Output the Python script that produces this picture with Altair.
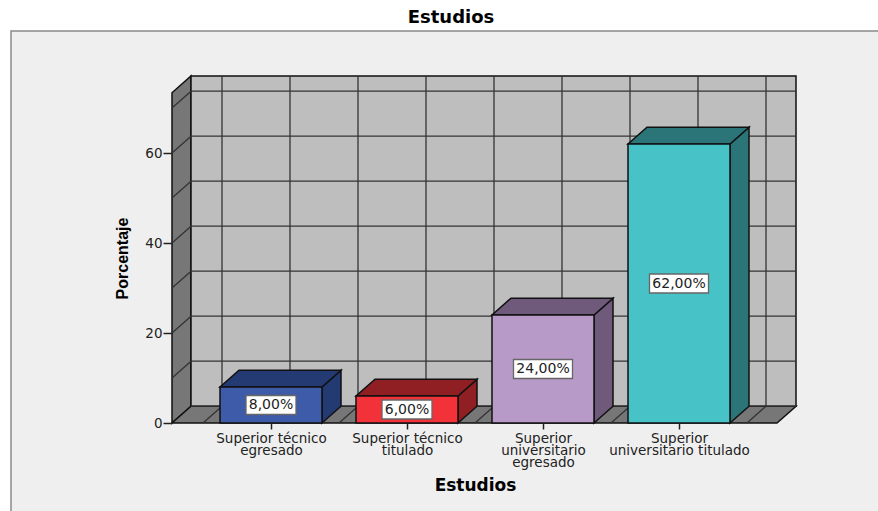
import altair as alt
import pandas as pd

# Values of the chart
categories = [
    "Superior técnico|egresado",
    "Superior técnico|titulado",
    "Superior|universitario|egresado",
    "Superior|universitario titulado",
]
percentages = [8.0, 6.0, 24.0, 62.0]
front_colors = ["#3E5BA9", "#F23139", "#B89AC9", "#47C3C8"]
shade_colors = ["#233A72", "#8F1F22", "#6F5A7B", "#2B7578"]
y_ticks = [0, 20, 40, 60]
grid_values = [0, 10, 20, 30, 40, 50, 60, 70]
grid_positions = [-0.5, 0, 0.5, 1, 1.5, 2, 2.5, 3, 3.5]

# Scale factors of the drawing
PX_PER_CAT = 136.0
PX_PER_PCT = 4.5
LEFT, TOP = 172, 76
WIDTH, HEIGHT = 624, 347
X_MIN = -99 / PX_PER_CAT
X_MAX = X_MIN + WIDTH / PX_PER_CAT
Y_MAX = HEIGHT / PX_PER_PCT
DX = 19 / PX_PER_CAT          # depth of the 3D box, category units
DY = 16.8 / PX_PER_PCT        # depth of the 3D box, percent units
HALF = 51 / PX_PER_CAT        # half a bar

xs = alt.Scale(domain=[X_MIN, X_MAX], nice=False, zero=False)
ys = alt.Scale(domain=[0, Y_MAX], nice=False, zero=False)
enc_x = alt.X("x:Q", scale=xs)
enc_y = alt.Y("y:Q", scale=ys)
enc_x2 = alt.X2("x2:Q")
enc_y2 = alt.Y2("y2:Q")
fill_id = alt.Color("fill:N", scale=None, legend=None)


def face(name, fill, rows):
    return [dict(shape=name, fill=fill, x=x, y=lo, y2=hi) for x, lo, hi in rows]


# Walls and floor of the 3D box
WALL_TOP = Y_MAX
walls = []
walls += face("left", "#777777", [(X_MIN, 0, WALL_TOP - DY), (X_MIN + DX, DY, WALL_TOP)])
walls += face("floor", "#777777", [
    (X_MIN, 0, 0), (X_MIN + DX, 0, DY), (X_MAX - DX, 0, DY), (X_MAX, DY, DY)])
walls += face("back", "#BEBEBE", [(X_MIN + DX, DY, WALL_TOP), (X_MAX, DY, WALL_TOP)])

# Grid lines on the walls and the floor
grid = []
for v in grid_values:
    grid += [dict(line=f"h{v}", x=X_MIN + DX, y=v + DY), dict(line=f"h{v}", x=X_MAX, y=v + DY)]
    if v:
        grid += [dict(line=f"s{v}", x=X_MIN, y=v), dict(line=f"s{v}", x=X_MIN + DX, y=v + DY)]
for m in grid_positions:
    grid += [dict(line=f"v{m}", x=m + DX, y=DY), dict(line=f"v{m}", x=m + DX, y=WALL_TOP)]
    grid += [dict(line=f"f{m}", x=m, y=0), dict(line=f"f{m}", x=m + DX, y=DY)]

# Faces of each bar
fronts, shades, boxes = [], [], []
for i, (value, front, shade) in enumerate(zip(percentages, front_colors, shade_colors)):
    a, b = i - HALF, i + HALF
    fronts.append(dict(x=a, x2=b, y=0, y2=value, fill=front))
    shades += face(f"side{i}", shade, [(b, 0, value), (b + DX, DY, value + DY)])
    shades += face(f"top{i}", shade, [
        (a, value, value), (a + DX, value, value + DY), (b, value, value + DY),
        (b + DX, value + DY, value + DY)])
    text = f"{value:.2f}".replace(".", ",") + "%"
    half_box = (len(text) * 9 + 5) / 2 / PX_PER_CAT
    half_h = 9.5 / PX_PER_PCT
    boxes.append(dict(x=i - half_box, x2=i + half_box, y=value / 2 - half_h,
                      y2=value / 2 + half_h, tx=i, ty=value / 2, text=text))

# Light grey panel behind the whole chart, running past the right and bottom edges
panel = pd.DataFrame([dict(x=X_MIN + (11 - LEFT) / PX_PER_CAT, x2=6, y=-30,
                           y2=(423 - 31) / PX_PER_PCT)])

label_list = "[" + ",".join(f"'{c}'" for c in categories) + "]"

# The axes sit on an invisible first layer and draw above the fills through zindex
axis_layer = alt.Chart(pd.DataFrame({"x": [0, 1, 2, 3], "y": [0, 0, 0, 0]})).mark_point(opacity=0).encode(
    x=alt.X("x:Q", scale=xs, axis=alt.Axis(
        values=[0, 1, 2, 3], title="Estudios", domain=False, grid=False, zindex=1,
        tickSize=6, tickColor="#222222", tickWidth=1.5,
        labelExpr=f"split({label_list}[datum.value], '|')",
        labelFont="DejaVu Sans", labelFontSize=13.5, labelColor="#222222",
        labelLineHeight=12, labelPadding=2, labelOverlap=False, labelBound=False,
        labelFlush=False, titleFont="DejaVu Sans", titleFontSize=17, titleFontWeight="bold",
        titleColor="#000000", titleX=303, titleY=54, titleAlign="center", titleAnchor="start",
    )),
    y=alt.Y("y:Q", scale=ys, axis=alt.Axis(
        values=y_ticks, title="Porcentaje", domain=False, grid=False, zindex=1,
        tickSize=9, tickColor="#222222", tickWidth=1.5, labelFont="DejaVu Sans",
        labelFontSize=13.5, labelColor="#222222", labelPadding=1,
        titleFont="Liberation Sans", titleFontSize=16, titleFontWeight="bold",
        titleColor="#000000", titleX=-42, titleY=182, titleAlign="center", titleAnchor="start",
    )),
)

panel_layer = alt.Chart(panel).mark_rect(fill="#EFEFEF", stroke="#8A8A8A", strokeWidth=1.5).encode(
    x=enc_x, x2=enc_x2, y=enc_y, y2=enc_y2)
wall_layer = alt.Chart(pd.DataFrame(walls)).mark_area(stroke="#111111", strokeWidth=1.5).encode(
    x=enc_x, y=enc_y, y2=enc_y2, color=fill_id, detail="shape:N")
grid_layer = alt.Chart(pd.DataFrame(grid)).mark_line(color="#333333", strokeWidth=1.3).encode(
    x=enc_x, y=enc_y, detail="line:N")
shade_layer = alt.Chart(pd.DataFrame(shades)).mark_area(stroke="#111111", strokeWidth=1.5).encode(
    x=enc_x, y=enc_y, y2=enc_y2, color=fill_id, detail="shape:N")
front_layer = alt.Chart(pd.DataFrame(fronts)).mark_rect(stroke="#111111", strokeWidth=1.5).encode(
    x=enc_x, x2=enc_x2, y=enc_y, y2=enc_y2, color=fill_id)
box_layer = alt.Chart(pd.DataFrame(boxes)).mark_rect(fill="#FFFFFF", stroke="#666666", strokeWidth=1.3).encode(
    x=enc_x, x2=enc_x2, y=enc_y, y2=enc_y2)
text_layer = alt.Chart(pd.DataFrame(boxes)).mark_text(
    font="DejaVu Sans", fontSize=14, color="#222222").encode(
    x=alt.X("tx:Q", scale=xs), y=alt.Y("ty:Q", scale=ys), text="text:N")

chart = alt.layer(
    axis_layer, panel_layer, wall_layer, grid_layer, shade_layer, front_layer, box_layer, text_layer
).properties(
    width=WIDTH,
    height=HEIGHT,
    padding={"left": LEFT, "top": TOP, "right": 878 - LEFT - WIDTH, "bottom": 511 - TOP - HEIGHT},
    autosize=alt.AutoSizeParams(type="none"),
    background="#FFFFFF",
    title=alt.TitleParams("Estudios", font="DejaVu Sans", fontSize=18, fontWeight="bold",
                          color="#000000", anchor="middle", dx=-33, offset=3),
).configure_view(stroke=None)

chart.save("out.html", embed_options={"renderer": "svg", "actions": False})
